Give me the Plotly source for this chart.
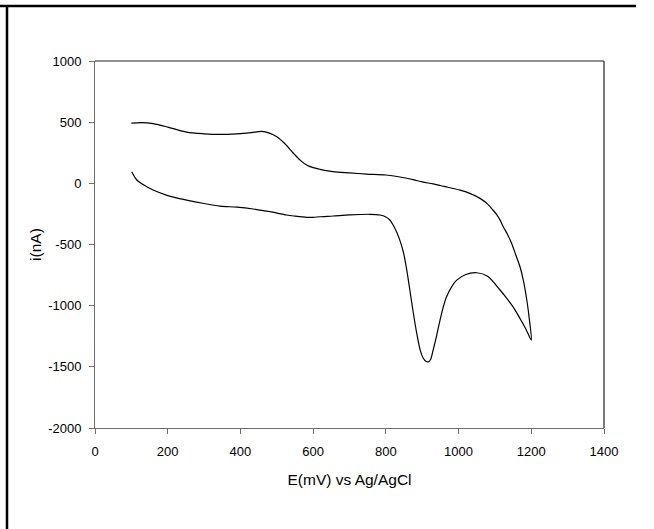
import plotly.graph_objects as go

# Forward scan (upper branch), E in mV, i in nA
E_fwd = [100, 130, 160, 200, 252, 300, 344, 390, 430, 458, 480, 500, 525, 545, 565, 582, 600, 619, 655, 700, 747, 800, 839, 875, 900, 930, 960, 1004, 1031, 1059, 1080, 1095, 1105, 1115, 1123, 1135, 1146, 1158, 1169, 1178, 1188, 1195, 1200]
i_fwd = [492, 497, 488, 460, 418, 405, 400, 405, 415, 425, 410, 380, 315, 248, 188, 150, 128, 115, 95, 85, 76, 68, 52, 30, 12, -5, -25, -55, -82, -123, -170, -220, -255, -305, -355, -420, -491, -590, -682, -791, -960, -1120, -1281]

# Reverse scan (lower branch)
E_rev = [1200, 1185, 1170, 1150, 1130, 1114, 1080, 1050, 1020, 995, 980, 967, 958, 949, 940, 930, 923, 917, 910, 903, 895, 885, 875, 866, 857, 848, 839, 830, 820, 811, 800, 784, 756, 700, 655, 619, 600, 582, 550, 527, 481, 435, 390, 344, 300, 252, 200, 160, 130, 115, 101]
i_rev = [-1281, -1190, -1110, -1010, -930, -872, -760, -731, -745, -791, -850, -927, -1010, -1118, -1240, -1363, -1440, -1459, -1455, -1430, -1370, -1227, -1050, -872, -700, -560, -470, -400, -340, -300, -275, -259, -253, -258, -267, -273, -278, -278, -268, -259, -232, -210, -195, -186, -165, -137, -100, -55, -5, 27, 95]

x_ticks = [0, 200, 400, 600, 800, 1000, 1200, 1400]
y_ticks = [-2000, -1500, -1000, -500, 0, 500, 1000]

fig = go.Figure()
fig.add_trace(go.Scatter(
    x=E_fwd + E_rev[1:], y=i_fwd + i_rev[1:],
    mode="lines", line=dict(color="black", width=1.2, shape="spline", smoothing=0.8),
    showlegend=False, hoverinfo="skip"))

axis_font = dict(family="Liberation Sans, Arial, sans-serif", size=13, color="black")
title_font = dict(family="Liberation Sans, Arial, sans-serif", size=15.5, color="black")
fig.update_layout(
    width=654, height=529,
    margin=dict(l=95, r=50, t=61, b=101),
    paper_bgcolor="white", plot_bgcolor="white",
    font=axis_font,
    xaxis=dict(range=[0, 1400], tickvals=x_ticks, ticktext=[str(v) for v in x_ticks],
               showgrid=False, zeroline=False, showline=True, linecolor="#6e6e6e", linewidth=1,
               ticks="outside", ticklen=5, tickcolor="#6e6e6e", tickfont=axis_font,
               ticklabelstandoff=6,
               title=dict(text="E(mV) vs Ag/AgCl", font=title_font, standoff=16)),
    yaxis=dict(range=[-2000, 1000], tickvals=y_ticks, ticktext=[str(v) for v in y_ticks],
               showgrid=False, zeroline=False, showline=True, linecolor="#6e6e6e", linewidth=1,
               ticks="outside", ticklen=5, tickcolor="#6e6e6e", tickfont=axis_font,
               ticklabelstandoff=5,
               title=dict(text="i(nA)", font=title_font, standoff=2)),
    shapes=[
        # top and right plot border (dark)
        dict(type="line", xref="paper", yref="paper", x0=0, x1=1, y0=1, y1=1, line=dict(color="#222222", width=1.2)),
        dict(type="line", xref="paper", yref="paper", x0=1, x1=1, y0=0, y1=1, line=dict(color="#222222", width=1.2)),
        # outer page frame (top and left)
        dict(type="line", xref="paper", yref="paper", x0=(0 - 95) / 509, x1=(636 - 95) / 509,
             y0=(428 - 6) / 367, y1=(428 - 6) / 367, line=dict(color="black", width=2.5)),
        dict(type="line", xref="paper", yref="paper", x0=(7 - 95) / 509, x1=(7 - 95) / 509,
             y0=(428 - 5) / 367, y1=(428 - 540) / 367, line=dict(color="black", width=2.5)),
    ],
)

fig.write_html("out.html", config={"displayModeBar": False},
               post_script="document.body.style.margin='0';document.body.style.overflow='hidden';")
